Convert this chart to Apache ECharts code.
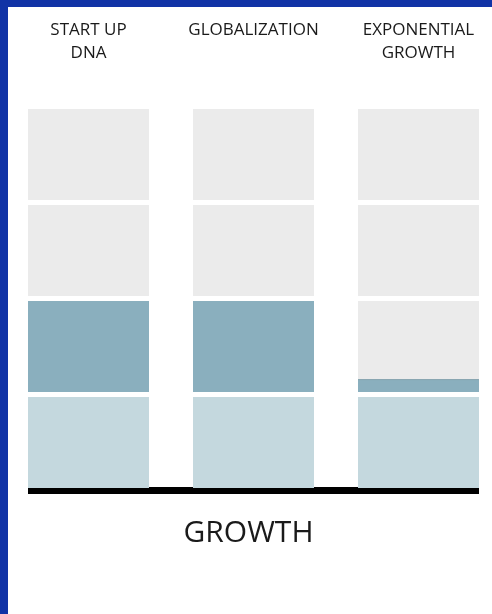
<!DOCTYPE html>
<html>
<head>
<meta charset="utf-8">
<script src="https://cdn.jsdelivr.net/npm/echarts@6/dist/echarts.min.js"></script>
<style>
html,body{margin:0;padding:0;background:#fff;}
#chart{width:492px;height:614px;}
</style>
</head>
<body>
<div id="chart"></div>
<script>
// ---- data ----
const categories = ['START UP\nDNA', 'GLOBALIZATION', 'EXPONENTIAL\nGROWTH'];
const positions = [0, 1, 2];
const baseLevel = [1, 1, 1];        // light bottom block
const growthLevel = [1, 1, 0.16];   // blue block in second row
const totalLevels = 4;
const axisTitle = 'GROWTH';

// ---- styles ----
const FONT = '"Open Sans", "Noto Sans", sans-serif';
const BAR_W = 0.7333;
const INSET = 2.5;
const C_EMPTY = '#ebebeb';
const C_BASE = '#c4d8de';
const C_GROW = '#8aafbe';

const chart = echarts.init(document.getElementById('chart'), null, {renderer: 'canvas'});

const data = positions.map((p, i) => [p, baseLevel[i], growthLevel[i]]);

function renderItem(params, api) {
  const x = api.value(0), base = api.value(1), g = api.value(2);
  const w = api.size([BAR_W, 0])[0];
  const cx = api.coord([x, 0])[0];
  const left = cx - w / 2;
  const yOf = v => api.coord([x, v])[1];
  const children = [];
  for (let r = 0; r < totalLevels; r++) {
    const top = yOf(r + 1) + INSET, bot = yOf(r) - INSET;
    children.push({type: 'rect', shape: {x: left, y: top, width: w, height: bot - top}, style: {fill: C_EMPTY}});
  }
  // base row (0..1)
  {
    const bot = yOf(0) - INSET;
    const top = base >= 1 ? yOf(1) + INSET : yOf(base);
    children.push({type: 'rect', shape: {x: left, y: top, width: w, height: bot - top}, style: {fill: C_BASE}});
  }
  // growth row (1..2)
  if (g > 0) {
    const bot = yOf(1) - INSET;
    const top = g >= 1 ? yOf(2) + INSET : yOf(1 + g);
    children.push({type: 'rect', shape: {x: left, y: top, width: w, height: bot - top}, style: {fill: C_GROW}});
    if (g < 1) {
      children.push({type: 'line', shape: {x1: left, y1: top + 0.5, x2: left + w, y2: top + 0.5}, style: {stroke: '#86a3ae', lineWidth: 1}});
    }
  }
  return {type: 'group', children};
}

chart.setOption({
  animation: false,
  backgroundColor: '#fff',
  graphic: [
    {type: 'rect', left: 0, top: 0, shape: {width: 8, height: 614}, style: {fill: '#1133a6'}, z: 100},
    {type: 'rect', left: 0, top: 0, shape: {width: 492, height: 7}, style: {fill: '#1133a6'}, z: 100}
  ],
  grid: {left: 28, right: 13, top: 106.5, bottom: 123.5},
  xAxis: [
    {
      type: 'value', min: -0.3667, max: 2.3667, position: 'bottom',
      axisLine: {show: true, lineStyle: {color: '#000', width: 7, cap: 'butt'}},
      axisTick: {show: false}, axisLabel: {show: false}, splitLine: {show: false},
      name: axisTitle, nameLocation: 'middle', nameGap: 28,
      nameTextStyle: {fontFamily: FONT, fontSize: 30, color: '#1a1a1a', verticalAlign: 'top', padding: [0, 10, 0, 0]}
    },
    {
      type: 'value', min: -0.3667, max: 2.3667, position: 'top',
      axisLine: {show: false}, axisTick: {show: false}, splitLine: {show: false},
      axisLabel: {
        show: true, customValues: positions, margin: 42,
        formatter: v => {
          const s = categories[positions.indexOf(Math.round(v))];
          return s.indexOf('\n') >= 0 ? s : s + '\n ';
        },
        fontFamily: FONT, fontSize: 17, lineHeight: 23, color: '#1a1a1a', align: 'center'
      }
    }
  ],
  yAxis: {type: 'value', min: 0, max: totalLevels, show: false},
  series: [{
    type: 'custom',
    renderItem,
    encode: {x: 0, y: [1, 2]},
    data
  }]
});
</script>
</body>
</html>
